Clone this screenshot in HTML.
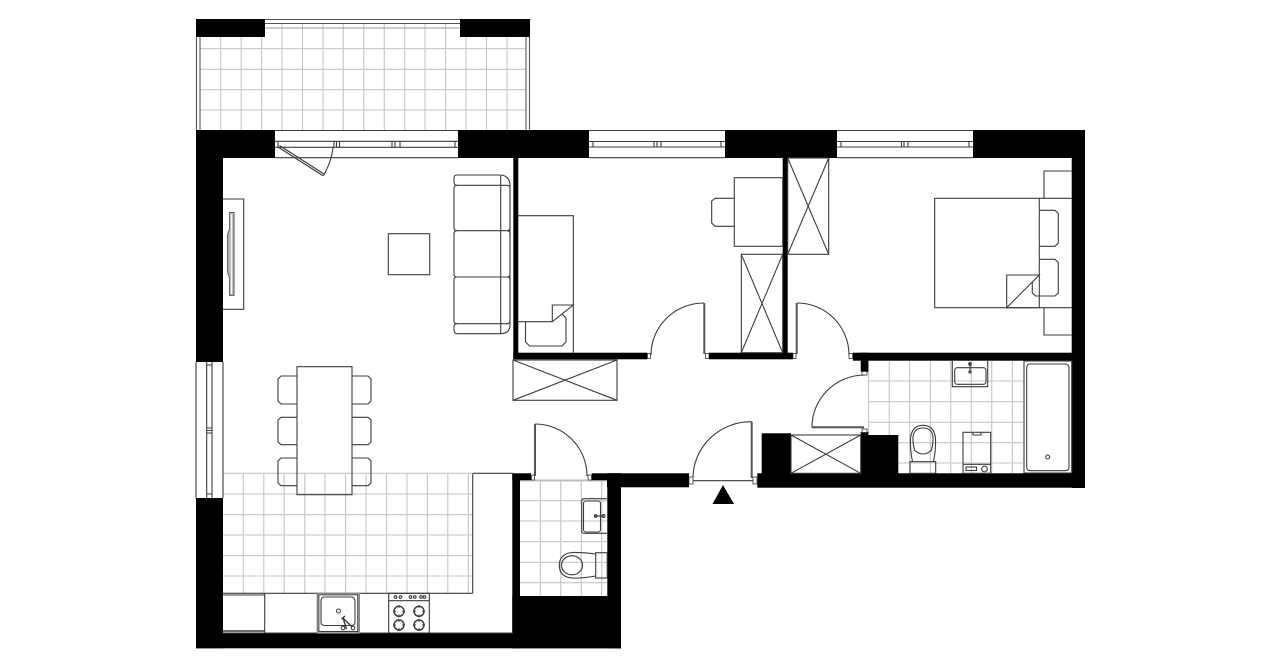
<!DOCTYPE html>
<html><head><meta charset="utf-8"><title>Floor plan</title>
<style>html,body{margin:0;padding:0;background:#fff}svg{display:block}</style></head>
<body>
<svg xmlns="http://www.w3.org/2000/svg" width="1280" height="667" viewBox="0 0 1280 667">
<rect width="1280" height="667" fill="#fff"/>
<!-- tile grids -->
<g fill="none" stroke="#c6c6c6" stroke-width="1.1">
<path d="M220.7 24V130M241.2 24V130M261.6 24V130M282 24V130M302.5 24V130M323 24V130M343.3 24V130M363.8 24V130M384.3 24V130M404.7 24V130M425 24V130M445.6 24V130M466 24V130M486.5 24V130M507 24V130"/>
<path d="M200 28H526M200 48.7H526M200 69.3H526M200 89.7H526M200 110H526"/>
<path d="M243.3 473V593M263.8 473V593M284.2 473V593M304.7 473V593M325 473V593M345.6 473V593M366 473V593M386.5 473V593M407 473V593M427.4 473V593M447.8 473V593M468.3 473V593"/>
<path d="M223 494H472M223 514.7H472M223 535H472M223 555.7H472M223 576H472M223 473.3H472"/>
<path d="M540.3 481V596M560.7 481V596M581.3 481V596M601.7 481V596M520 500.7H607M520 521H607M520 541.7H607M520 562.3H607M520 582.7H607M520 481H607"/>
<path d="M868.5 361V473M889.3 361V473M909.7 361V473M930.3 361V473M950.7 361V473M971.3 361V473M991.7 361V473M1012.3 361V473M868 381H1023M868 401.7H1023M868 422.3H1023M868 442.7H1023M868 463H1023"/>
</g>
<!-- balcony outline -->
<g fill="none" stroke="#555" stroke-width="1.1">
<path d="M196.5 130V19.5H529.5V130"/>
<path d="M200 130V23.5H526V130"/>
<path d="M264 28H460" stroke="#999"/>
</g>
<!-- walls -->
<g fill="#000">
<rect x="196" y="19" width="69" height="18"/>
<rect x="460" y="19" width="70" height="18"/>
<rect x="196" y="130" width="79" height="28"/>
<rect x="458" y="130" width="131" height="28"/>
<rect x="725" y="130" width="112" height="28"/>
<rect x="973" y="130" width="112" height="28"/>
<rect x="196" y="130" width="27" height="232"/>
<rect x="196" y="498" width="27" height="150.3"/>
<rect x="196" y="633.3" width="425" height="15"/>
<rect x="1071.7" y="130" width="13.3" height="358"/>
<rect x="757.3" y="473.3" width="327.7" height="14.4"/>
<rect x="513.3" y="158" width="5" height="201"/>
<rect x="513.3" y="352.7" width="134" height="6.6"/>
<rect x="709" y="352.7" width="84" height="6.6"/>
<rect x="782.7" y="158" width="5" height="200"/>
<rect x="853" y="352.7" width="219" height="8"/>
<rect x="860.7" y="352.7" width="7.6" height="19"/>
<rect x="761.7" y="433.3" width="29.3" height="41"/>
<rect x="860.7" y="435" width="37.6" height="39"/>
<rect x="860.7" y="432" width="7.6" height="4"/>
<rect x="512.3" y="474" width="7.7" height="174.3"/>
<rect x="512.3" y="473.3" width="18.7" height="7"/>
<rect x="591.7" y="473.3" width="29.3" height="7"/>
<rect x="607.3" y="473.3" width="13.7" height="175"/>
<rect x="512.3" y="596" width="108.7" height="52.3"/>
<rect x="607" y="473.3" width="82" height="14"/>
<path d="M723 485L734 504H712.5Z"/>
</g>
<g fill="none" stroke="#3c3c3c" stroke-width="1.1">
<!-- windows top -->
<path d="M275 130.5H458M275 157.7H458M589 130.5H725M589 157.7H725M837 130.5H973M837 157.7H973"/>
<path d="M275 141.3H458M275 147.3H458M278 141.3V147.3M334 141.3V147.3M336.5 141.3V147.3M339.5 141.3V147.3M392 141.3V147.3M395 141.3V147.3M400 141.3V147.3M455 141.3V147.3"/>
<path d="M589 141.5H725M589 147H725M593 141.5V147M654 141.5V147M657 141.5V147M661 141.5V147M721 141.5V147"/>
<path d="M837 141.5H973M837 147H973M841 141.5V147M901.5 141.5V147M904 141.5V147M908 141.5V147M969 141.5V147"/>
<!-- balcony door -->
<path d="M278 147L323 175.7M279.5 145.5L324 174" stroke-width="1.2"/>
<path d="M323.5 175.7Q332 160 333 147"/>
<!-- left window -->
<path d="M196 362V498M223 362V498M206.7 362V498M212 362V498M206.7 428H212M206.7 430.5H212M206.7 433H212M206.7 494H212M206.7 365H212"/>
<!-- TV -->
<path d="M223 199H243.7V309.3H223"/>
<path d="M229.5 212.5H234V295.5H229.5V278L227.5 272V235L229.5 229Z" fill="#b5b5b5" stroke="#666"/>
<path d="M231.5 214V294" stroke="#f4f4f4" stroke-width="1.4"/>
<!-- coffee table -->
<rect x="388.3" y="233.7" width="41.4" height="41"/>
<!-- sofa -->
<path d="M500.7 175H502Q510 177 510 185V325Q510 333.7 500 333.7H457Q454 333.7 454 330V326Q454 323.7 457 323.7H507M500.7 175V333.7M500 175H457Q454 175 454 178V182Q454 185.3 457 185.3H507"/>
<path d="M457 185.3Q454 185.3 454 188.5V227.5Q454 230.7 457 230.7H507Q510 230.7 510 227.5V188.5Q510 185.3 507 185.3"/>
<path d="M457 230.7Q454 230.7 454 234V274Q454 277 457 277H507Q510 277 510 274V234Q510 230.7 507 230.7"/>
<path d="M457 277Q454 277 454 280V320.5Q454 323.7 457 323.7M507 277Q510 277 510 280V320.5Q510 323.7 507 323.7"/>
<!-- dining -->
<rect x="297" y="366.7" width="55" height="128"/>
<path d="M297 376H281L278 379V401L281 404H297M297 417.3H281L278 420V442L281 444.7H297M297 458H281L278 461V483L281 485.7H297"/>
<path d="M352 376H368L371 379V401L368 404H352M352 417.3H368L371 420V442L368 444.7H352M352 458H368L371 461V483L368 485.7H352"/>
<!-- kitchen -->
<path d="M472.7 473.3H513M472.7 473.3V593.3M223 593.3H472.7M223 633H513"/>
<path d="M264.7 593.3V633"/>
<path d="M223 595H264.7"/>
<path d="M223 631H264.7" stroke-width="1.6"/>
<rect x="317.3" y="593.3" width="42" height="39.7" stroke="#888" stroke-width="1.4"/>
<rect x="318.8" y="594.8" width="39" height="36.7"/>
<path d="M324.5 597H351Q355 597 355 601V622Q355 625.5 351 625.5H325Q321 625.5 321 622V601Q321 597 324.5 597Z"/>
<circle cx="338.5" cy="611" r="2"/>
<circle cx="343" cy="628" r="1.8"/><circle cx="353" cy="628" r="1.8"/>
<path d="M343 618L352 627M343 618L346.5 629M341.5 619L345 616" stroke-width="1.4"/>
<rect x="388.7" y="593.3" width="40.6" height="39.7"/>
<path d="M388.7 600.7H429.3"/>
<circle cx="395.5" cy="597" r="1.3"/><circle cx="400.5" cy="597" r="1.3"/><circle cx="410.5" cy="597" r="1.3"/><circle cx="414.8" cy="597" r="1.3"/><circle cx="421" cy="597" r="1.3"/><circle cx="424.5" cy="597" r="1.3"/>
<g stroke-width="1.5">
<circle cx="399" cy="611.3" r="5"/><circle cx="419" cy="611.3" r="5"/><circle cx="399" cy="625" r="5"/><circle cx="419" cy="625" r="5"/>
</g>
<g stroke-width="0.9">
<path d="M399 605V608M399 614.5V617.5M393 611.3H396M402 611.3H405M419 605V608M419 614.5V617.5M413 611.3H416M422 611.3H425M399 619V622M399 628V631M393 625H396M402 625H405M419 619V622M419 628V631M413 625H416M422 625H425"/>
</g>
<!-- WC -->
<path d="M607 498.7H584Q581.7 498.7 581.7 501V531Q581.7 533.3 584 533.3H607"/>
<rect x="583.5" y="501" width="17" height="31" rx="2.5"/>
<path d="M595 516H604"/><circle cx="595.7" cy="516" r="1.3"/><circle cx="603.5" cy="516" r="1.5"/>
<rect x="595.7" y="552.7" width="11.5" height="25.3"/>
<path d="M595.7 554Q580 552 572 552.5Q559.3 554 559.3 565.3Q559.3 577 572 578Q582 578.5 595.7 576"/>
<ellipse cx="572" cy="565.3" rx="10.5" ry="9.5"/>
<!-- closet living -->
<rect x="513" y="360" width="104" height="40.3"/>
<path d="M513 360L617 400.3M617 360L513 400.3"/>
<!-- room 1 -->
<path d="M518 215.7H573.3V352.7"/>
<path d="M518 321.7H552.3V305H573.3L552.3 321.7"/>
<path d="M525.5 321.7V342L529.5 346H562L566 342V318L562 314"/>
<rect x="734.3" y="177.7" width="48.4" height="68.6"/>
<path d="M734.3 198.3H715L711.7 201V223L715 226.3H734.3"/>
<rect x="741.3" y="254.3" width="41.4" height="98.4"/>
<path d="M741.3 352.7L782.7 254.3M741.3 254.3L782.7 352.7"/>
<rect x="787.7" y="158" width="41" height="96.3"/>
<path d="M787.7 158L828.7 254.3M828.7 158L787.7 254.3"/>
<!-- bedroom -->
<rect x="934.7" y="198.3" width="104.6" height="109.4"/>
<path d="M1006.7 307.7V275H1039.3Z" fill="#fff"/>
<path d="M1039.3 210.3H1055L1058.3 213.5V243L1055 246.3H1039.3"/>
<path d="M1039.3 259.3H1055L1058.3 262.5V293L1055 296H1035.5L1032.3 293V282"/>
<path d="M1039.3 198.3H1071.7M1006.7 307.7H1071.7M1044 198.3V171H1071.7M1044 307.7V335H1071.7"/>
<!-- lower closet -->
<rect x="791" y="435" width="69.7" height="38.3"/>
<path d="M791 435L860.7 473.3M860.7 435L791 473.3"/>
<!-- bathroom -->
<rect x="1024" y="361" width="47.7" height="112"/>
<rect x="1026.7" y="364" width="42.3" height="106.7" rx="3.5"/>
<circle cx="1047.7" cy="457" r="2"/>
<path d="M952.3 361V386.7H987.7V361"/>
<rect x="954.7" y="367.7" width="31.3" height="16.6" rx="2.5"/>
<path d="M970 362V372"/><circle cx="970" cy="364" r="1.3"/><circle cx="970" cy="372" r="1.1"/>
<rect x="910" y="461.7" width="25.7" height="11.6"/>
<path d="M912.5 461.7Q910 450 910.5 438Q912 425.3 923 425.3Q934 425.3 935.5 438Q936 450 933.5 461.7"/>
<path d="M914.5 450Q912.5 442 913 437Q914 428 923 428Q932 428 933 437Q933.5 442 931.5 450Q928 454 923 454Q918 454 914.5 450Z"/>
<rect x="963" y="432.3" width="27.7" height="41"/>
<path d="M963 464.3H990.7M973 432.3V435H981V432.3"/>
<rect x="966" y="467" width="10.5" height="3.5"/><circle cx="984.5" cy="469" r="2.8"/>
</g>
<!-- doors -->
<g fill="none" stroke="#3c3c3c" stroke-width="1.1">
<path d="M651 355A53 52 0 0 1 704 303"/>
<path d="M849 355A52 52 0 0 0 797 303"/>
<path d="M865 375A53 52 0 0 0 812 427.3"/>
<path d="M587 476A52 52 0 0 0 535 424"/>
<path d="M693 478A58 56.5 0 0 1 751.7 421.7"/>
<path d="M693 480.7H753"/>
<path d="M535 480H587" stroke="#bbb"/>
</g>
<g fill="none" stroke="#555" stroke-width="2">
<path d="M704.3 303V354M796.7 303V354M811.7 427.3H864M535 424V476M751.7 421.7V478"/>
</g>
<g fill="#fff" stroke="#333" stroke-width="0.8">
<rect x="647.5" y="353.5" width="3" height="5"/>
<rect x="705.5" y="353.5" width="3.5" height="5"/>
<rect x="793" y="353.5" width="3" height="5"/>
<rect x="849" y="353.5" width="3.5" height="5"/>
<rect x="862" y="371.5" width="5" height="3.5"/>
<rect x="862" y="429" width="5" height="3.5"/>
<rect x="531.5" y="475" width="3" height="5"/>
<rect x="588" y="475" width="3.5" height="5"/>
<rect x="689" y="477" width="4" height="7"/>
<rect x="753" y="477" width="4" height="7"/>
</g>
</svg>
</body></html>
